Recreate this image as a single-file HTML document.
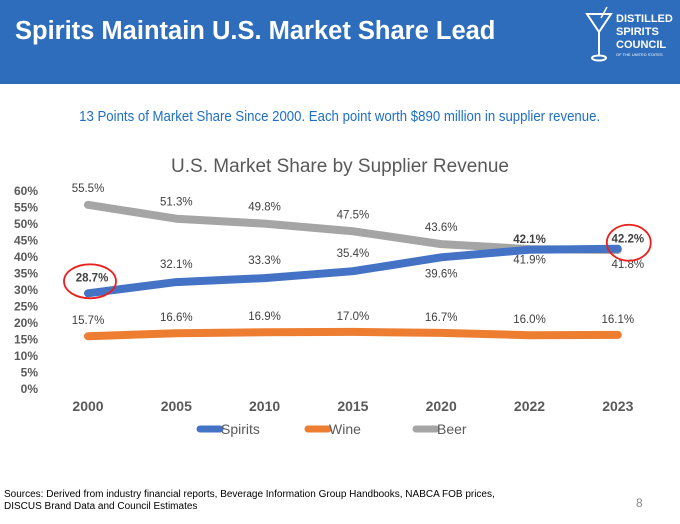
<!DOCTYPE html>
<html><head><meta charset="utf-8"><style>
body{margin:0;width:680px;height:524px;background:#fff;font-family:"Liberation Sans",sans-serif;overflow:hidden;position:relative}
#hdr{position:absolute;left:0;top:0;width:680px;height:84px;background:#2e6dbb}
#title{position:absolute;left:15px;top:17px;color:#fff;font-weight:bold;font-size:25.5px}
#sub{position:absolute;left:0;width:680px;top:108px;text-align:center;color:#1f6fc5;font-size:15px;transform:scaleX(0.88);transform-origin:337px 0}
#src{position:absolute;left:4px;top:489px;font-size:10px;line-height:12px;color:#000}
#pg{position:absolute;left:636px;top:496px;font-size:12px;color:#888}
</style></head><body>
<div id="hdr"></div>
<div id="title">Spirits Maintain U.S. Market Share Lead</div>
<svg style="position:absolute;left:585px;top:6px" width="95" height="60">
<path d="M2 8 L26 8 L14 26 Z" fill="none" stroke="#fff" stroke-width="2"/>
<line x1="14" y1="26" x2="14" y2="50" stroke="#fff" stroke-width="2"/>
<ellipse cx="14" cy="52" rx="7" ry="2.5" fill="none" stroke="#fff" stroke-width="2"/>
<line x1="16" y1="12" x2="22" y2="1" stroke="#fff" stroke-width="1.5"/>
<text x="31" y="16" fill="#fff" font-size="11" font-weight="bold">DISTILLED</text>
<text x="31" y="29" fill="#fff" font-size="11" font-weight="bold">SPIRITS</text>
<text x="31" y="42" fill="#fff" font-size="11" font-weight="bold">COUNCIL</text>
<text x="31" y="50" fill="#fff" font-size="4">OF THE UNITED STATES</text>
</svg>
<div id="sub">13 Points of Market Share Since 2000. Each point worth $890 million in supplier revenue.</div>
<svg id="chart" style="position:absolute;left:0;top:140px" width="680" height="310"></svg>
<div id="src">Sources: Derived from industry financial reports, Beverage Information Group Handbooks, NABCA FOB prices,<br>DISCUS Brand Data and Council Estimates</div>
<div id="pg">8</div>
<script>
const years=["2000","2005","2010","2015","2020","2022","2023"];
const spirits=[28.7,32.1,33.3,35.4,39.6,41.9,42.2];
const wine=[15.7,16.6,16.9,17.0,16.7,16.0,16.1];
const beer=[55.5,51.3,49.8,47.5,43.6,42.1,41.8];
const yTicks=[0,5,10,15,20,25,30,35,40,45,50,55,60];
const NS="http://www.w3.org/2000/svg";
const svg=document.getElementById('chart');
const OY=140;
function X(i){return 88+i*88.3;}
function Y(v){return 388-v*3.3-OY;}
function el(t,a,txt){const e=document.createElementNS(NS,t);for(const k in a)e.setAttribute(k,a[k]);if(txt!==undefined)e.textContent=txt;svg.appendChild(e);return e;}
let t=el('text',{x:340,y:32,'text-anchor':'middle','font-size':19,fill:'#595959'},'U.S. Market Share by Supplier Revenue');


yTicks.forEach(v=>{const e=el('text',{x:38,y:Y(v)+5,'text-anchor':'end','font-size':12,'font-weight':'bold',fill:'#595959'},v+'%');

});
years.forEach((y,i)=>{const e=el('text',{x:X(i),y:271,'text-anchor':'middle','font-size':14,'font-weight':'bold',fill:'#595959'},y);

});
function series(vals,color,name,lblOff){
 const p=el('polyline',{points:vals.map((v,i)=>X(i)+','+Y(v)).join(' '),fill:'none',stroke:color,'stroke-width':8,'stroke-linecap':'round','stroke-linejoin':'round'});
 
 
 vals.forEach((v,i)=>{const o=lblOff(i);const e=el('text',{x:X(i)+o[0],y:Y(v)+o[1],'text-anchor':'middle','font-size':11.5,fill:'#404040','font-weight':o[2]?'bold':'normal'},v.toFixed(1)+'%');
 
 });
}
series(beer,'#a5a5a5','beer',i=>i==5?[0,-6,1]:i==6?[10,18]:[0,-13]);
series(spirits,'#4472c4','spirits',i=>i==0?[4,-12,1]:i==5?[0,14]:i==6?[10,-6,1]:i==4?[0,20]:[0,-14]);
series(wine,'#ed7d31','wine',i=>[0,-12]);
[[X(0)+2,Y(spirits[0])-12,26,17],[X(6)+11,Y(spirits[6])-6,22,18]].forEach(c=>{const e=el('ellipse',{cx:c[0],cy:c[1],rx:c[2],ry:c[3],fill:'none',stroke:'#e8201e','stroke-width':1.8});

});
[['Spirits','#4472c4',200],['Wine','#ed7d31',308],['Beer','#a5a5a5',416]].forEach(l=>{
 const g=el('line',{x1:l[2],y1:289,x2:l[2]+20,y2:289,stroke:l[1],'stroke-width':7,'stroke-linecap':'round'});
 
 
 const e=el('text',{x:l[2]+21,y:294,'font-size':14,fill:'#595959'},l[0]);
 
 });
</script>
</body></html>
